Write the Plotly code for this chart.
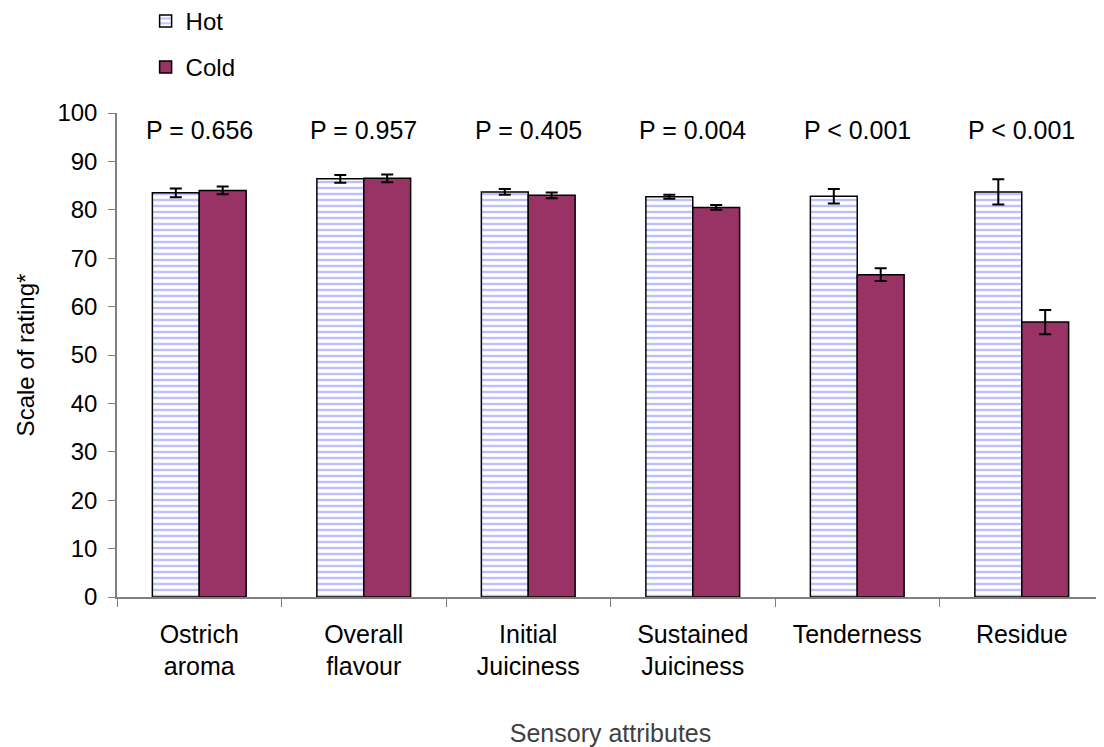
import plotly.graph_objects as go

categories = ["Ostrich<br>aroma", "Overall<br>flavour", "Initial<br>Juiciness",
              "Sustained<br>Juiciness", "Tenderness", "Residue"]
hot_values = [83.5, 86.4, 83.7, 82.7, 82.8, 83.7]
hot_errors = [0.9, 0.8, 0.6, 0.4, 1.5, 2.6]
cold_values = [84.0, 86.5, 83.0, 80.5, 66.6, 56.8]
cold_errors = [0.8, 0.8, 0.6, 0.5, 1.3, 2.5]
p_labels = ["P = 0.656", "P = 0.957", "P = 0.405", "P = 0.004", "P < 0.001", "P < 0.001"]
p_y = 96.5

font_family = "Liberation Sans, Arial, sans-serif"

fig = go.Figure()
fig.add_trace(go.Bar(
    name="Hot", x=categories, y=hot_values, legendgroup="hot",
    error_y=dict(type="data", array=hot_errors, color="black", thickness=2, width=6),
    marker=dict(color="white", line=dict(color="black", width=1.5),
                pattern=dict(shape="-", fgcolor="#8080ff", bgcolor="white", size=6, solidity=0.4)),
))
fig.add_trace(go.Bar(
    name="Cold", x=categories, y=cold_values, legendgroup="cold",
    error_y=dict(type="data", array=cold_errors, color="black", thickness=2, width=6),
    marker=dict(color="#993366", line=dict(color="black", width=1.5)),
))

for c, p in zip(categories, p_labels):
    fig.add_annotation(x=c, y=p_y, text=p, showarrow=False, xref="x", yref="y",
                       font=dict(size=25, color="black", family=font_family))

fig.update_layout(
    width=1096, height=739,
    margin=dict(l=109, r=0, t=105, b=150, autoexpand=False),
    paper_bgcolor="white", plot_bgcolor="white",
    barmode="group", bargap=0.43, bargroupgap=0,
    font=dict(family=font_family, color="black", size=24),
    showlegend=True,
    legend=dict(x=0.029, y=1.236, xanchor="left", yanchor="top",
                font=dict(size=24, color="black"), bgcolor="rgba(0,0,0,0)",
                itemwidth=30, tracegroupgap=12),
    xaxis=dict(showline=True, linecolor="#808080", linewidth=1.5,
               ticks="outside", tickson="boundaries", ticklen=8, tickcolor="#808080",
               ticklabelstandoff=14,
               tickfont=dict(size=25, color="black"),
               title=dict(text="Sensory attributes", font=dict(size=25, color="#404040"), standoff=45)),
    yaxis=dict(range=[0, 100], dtick=10, showline=True, linecolor="#808080", linewidth=1.5,
               ticks="outside", ticklen=7, tickcolor="#808080", showgrid=False, zeroline=False,
               ticklabelstandoff=6,
               tickfont=dict(size=24, color="black"),
               title=dict(text="Scale of rating*", font=dict(size=24, color="black"), standoff=16)),
)

fig.write_html("out.html")
